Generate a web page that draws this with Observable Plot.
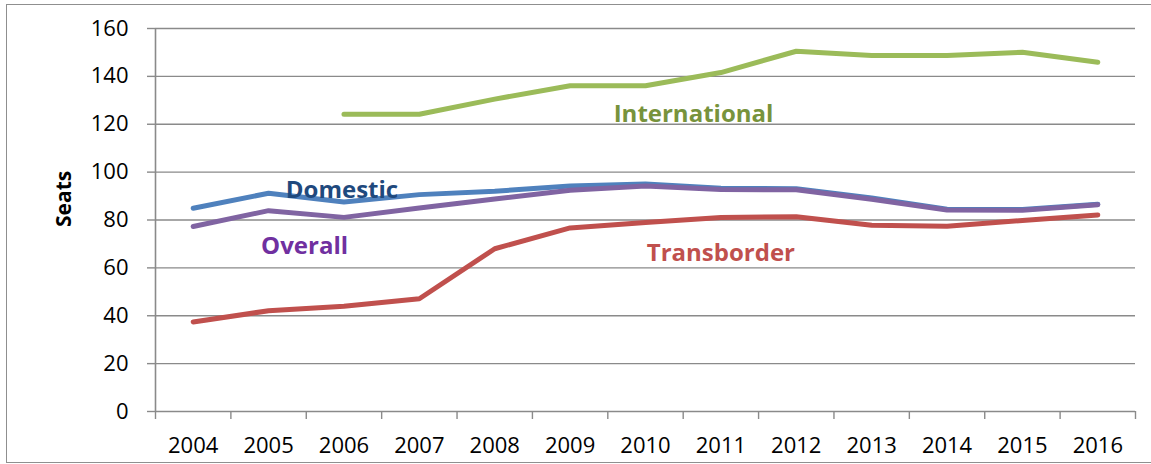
<!DOCTYPE html>
<html>
<head>
<meta charset="utf-8">
<script src="https://cdn.jsdelivr.net/npm/d3@7"></script>
<script src="https://cdn.jsdelivr.net/npm/@observablehq/plot@0.6"></script>
<style>
  html, body { margin: 0; padding: 0; background: #fff; }
  #wrap { position: relative; width: 1151px; height: 464px; overflow: hidden; }
  #frame {
    position: absolute; left: 6px; top: 4px; right: -10px; bottom: 1px;
    border: 1.6px solid #8f8f8f; border-right: none; pointer-events: none;
  }
  svg { overflow: visible; }
</style>
</head>
<body>
<div id="wrap"><div id="frame"></div></div>
<script>
// Average seats per flight, by market segment
const years = [2004, 2005, 2006, 2007, 2008, 2009, 2010, 2011, 2012, 2013, 2014, 2015, 2016];
const international = [null, null, 124.2, 124.2, 130.5, 136.1, 136.1, 141.6, 150.5, 148.7, 148.7, 150.1, 145.9];
const domestic = [84.9, 91.2, 87.5, 90.6, 92.0, 94.2, 95.0, 93.3, 93.1, 89.2, 84.5, 84.4, 86.6];
const overall = [77.3, 83.9, 81.1, 85.0, 88.8, 92.4, 94.2, 92.7, 92.6, 88.7, 84.2, 84.1, 86.4];
const transborder = [37.4, 42.1, 44.0, 47.1, 68.0, 76.7, 79.0, 81.0, 81.4, 77.8, 77.4, 79.8, 82.1];
const yTicks = [0, 20, 40, 60, 80, 100, 120, 140, 160];

const font = "'Open Sans', sans-serif";
const grey = "#8a8a8a";

const rows = (values) => years.map((year, i) => ({year, value: values[i]}));
// Category boundaries for the x-axis tick marks
const bounds = [...years.map((y) => y - 0.5), years[years.length - 1] + 0.5];

const series = [
  {name: "International", values: international, color: "#9bbb59"},
  {name: "Transborder", values: transborder, color: "#c0504d"},
  {name: "Domestic", values: domestic, color: "#4f81bd"},
  {name: "Overall", values: overall, color: "#8064a2"}
];

// In-chart series labels: anchor year, anchor value, horizontal nudge
const labels = [
  {text: "International", year: 2010, value: 124.3, dx: 48, color: "#77933c"},
  {text: "Domestic", year: 2006, value: 92.6, dx: -2, color: "#1f497d"},
  {text: "Overall", year: 2005, value: 69.0, dx: 36, color: "#7030a0"},
  {text: "Transborder", year: 2011, value: 65.9, dx: 0, color: "#c0504d"}
];

const chart = Plot.plot({
  width: 1151,
  height: 464,
  marginLeft: 155,
  marginRight: 16,
  marginTop: 28,
  marginBottom: 53,
  style: {fontFamily: font, fontSize: "22px", color: "#000", background: "transparent"},
  x: {domain: [2003.5, 2016.5]},
  y: {domain: [0, 160]},
  marks: [
    Plot.gridY(yTicks.filter((d) => d > 0), {stroke: grey, strokeOpacity: 1, strokeWidth: 1.4}),
    Plot.ruleY([0], {stroke: grey, strokeWidth: 1.6}),
    Plot.ruleX([2003.5], {stroke: grey, strokeWidth: 1.6}),
    Plot.axisY(yTicks, {tickSize: 8, tickPadding: 19, stroke: grey, strokeWidth: 1.4, label: null, fill: "#000"}),
    Plot.axisX(bounds, {tickSize: 8, stroke: grey, strokeWidth: 1.4, tickFormat: () => "", label: null}),
    Plot.axisX(years, {tickSize: 0, tickPadding: 26, tickFormat: "d", label: null, fill: "#000"}),
    Plot.text(["Seats"], {
      frameAnchor: "left", dx: -91, dy: 7, rotate: -90,
      fontWeight: "bold", fontSize: 21, fill: "#000"
    }),
    ...series.map((s) =>
      Plot.line(rows(s.values), {
        x: "year", y: "value", stroke: s.color, strokeWidth: 5,
        strokeLinecap: "round", strokeLinejoin: "round"
      })
    ),
    ...labels.map((l) =>
      Plot.text([l], {
        x: "year", y: "value", dx: l.dx, text: "text", fill: l.color,
        fontWeight: "bold", fontSize: 24
      })
    )
  ]
});

document.getElementById("wrap").prepend(chart);
</script>
</body>
</html>
